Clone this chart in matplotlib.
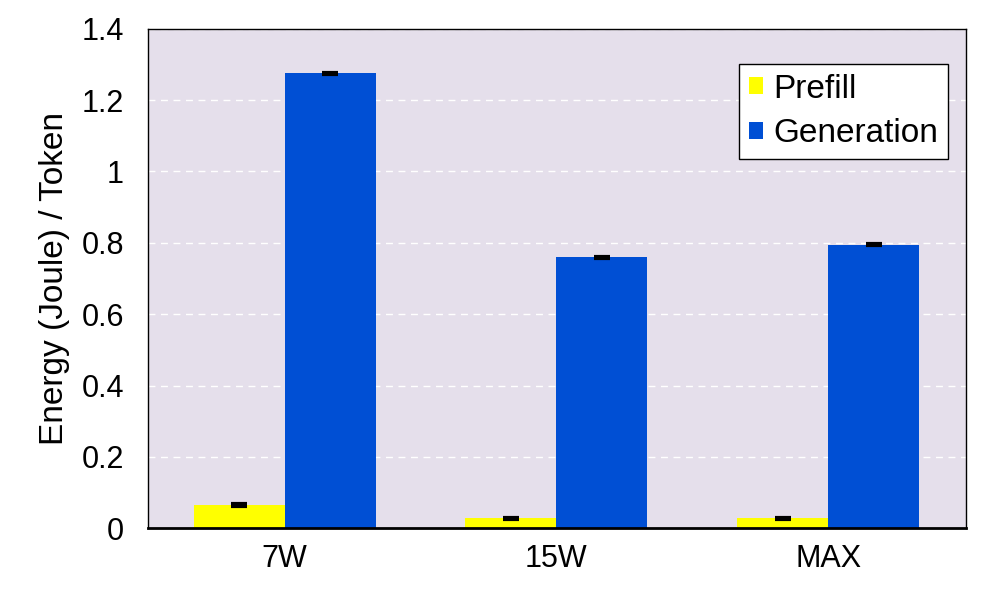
import matplotlib
matplotlib.use("Agg")
import matplotlib.pyplot as plt
import numpy as np

plt.rcParams['font.family'] = ['Liberation Sans', 'DejaVu Sans']

categories = ['7W', '15W', 'MAX']
prefill = [0.065, 0.028, 0.028]
generation = [1.275, 0.759, 0.795]
prefill_err = [0.002, 0.001, 0.001]
generation_err = [0.002, 0.002, 0.002]

x = np.arange(len(categories))
w = 0.335

fig = plt.figure(figsize=(9.97, 5.99), dpi=100)
ax = fig.add_axes([0.148, 0.118, 0.821, 0.834])
ax.set_facecolor('#e5dfeb')

ax.bar(x - w / 2, prefill, w, color='#ffff00', label='Prefill',
       yerr=prefill_err, error_kw=dict(ecolor='black', capsize=6, capthick=3, elinewidth=1))
ax.bar(x + w / 2, generation, w, color='#004fd4', label='Generation',
       yerr=generation_err, error_kw=dict(ecolor='black', capsize=6, capthick=3, elinewidth=1))

ax.set_ylim(0, 1.4)
ax.set_xlim(-0.505, 2.508)
ax.set_yticks([0, 0.2, 0.4, 0.6, 0.8, 1.0, 1.2, 1.4])
ax.set_yticklabels(['0', '0.2', '0.4', '0.6', '0.8', '1', '1.2', '1.4'])
ax.set_xticks(x)
ax.set_xticklabels(categories)
ax.tick_params(axis='both', length=0, labelsize=22)
ax.tick_params(axis='y', pad=17)
ax.tick_params(axis='x', pad=11)
ax.yaxis.grid(True, color='white', linestyle=(0, (5, 4)), linewidth=1)
ax.set_axisbelow(True)
for s in ax.spines.values():
    s.set_linewidth(1)
ax.spines['bottom'].set_linewidth(2)

ax.set_ylabel('Energy (Joule) / Token', fontsize=24, labelpad=8)

leg = ax.legend(loc='upper right', bbox_to_anchor=(0.978, 0.93), fontsize=24,
                fancybox=False, framealpha=1, edgecolor='black',
                handlelength=0.42, handleheight=0.42, handletextpad=0.3,
                borderpad=0.3, labelspacing=0.4, borderaxespad=0)
leg.get_frame().set_linewidth(1)

fig.savefig('out.png', dpi=100)
